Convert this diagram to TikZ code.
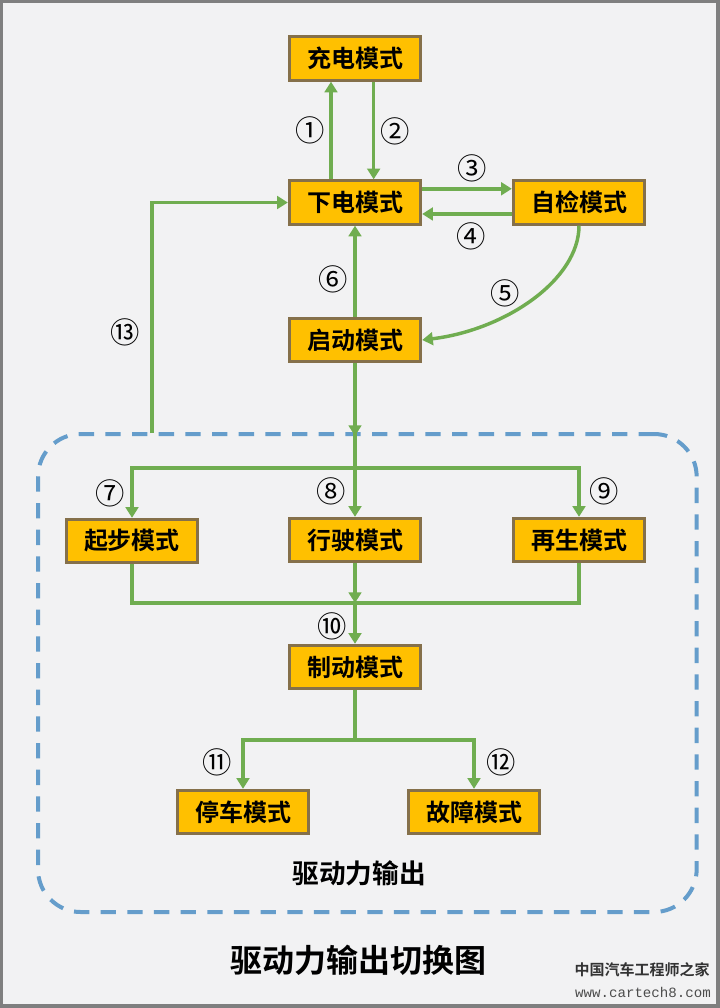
\documentclass[tikz,border=0pt]{standalone}
\usepackage{fontspec}
\usetikzlibrary{arrows.meta,calc}
\setmainfont{Liberation Sans}
\newfontfamily\cjk{Noto Sans CJK SC}[BoldFont={Noto Sans CJK SC Bold}]
\newfontfamily\circfont{Noto Sans CJK SC}
\newfontfamily\wmono{Liberation Mono}
\definecolor{pagebg}{HTML}{F2F2F3}
\definecolor{pageedge}{HTML}{7F7F7F}
\definecolor{boxfill}{HTML}{FFC000}
\definecolor{boxedge}{HTML}{85704A}
\definecolor{flow}{HTML}{70AD50}
\definecolor{dashblue}{HTML}{659DCB}
\tikzset{
  px/.style={x=0.75pt,y=-0.75pt},
  modebox/.style={draw=boxedge,fill=boxfill,line width=2.25pt,minimum width=98.5pt,minimum height=32.5pt,inner sep=0pt,font=\cjk\bfseries\fontsize{18pt}{20pt}\selectfont,text=black},
  flowline/.style={draw=flow,line width=2.6pt},
  flowarrow/.style={flowline,-{Triangle[length=8pt,width=9.5pt]}},
  numlabel/.style={inner sep=0pt,font=\circfont\fontsize{22pt}{24pt}\selectfont,text=black},
}
\begin{document}
\begin{tikzpicture}[px]
\useasboundingbox (0,0) rectangle (720,1008);
\fill[pageedge] (0,0) rectangle (720,1008);
\fill[pagebg] (3,3) rectangle (716,1004);

% dashed region
\node[draw=dashblue,line width=3pt,dash pattern=on 11.5pt off 8.5pt,rounded corners=32pt,minimum width=494pt,minimum height=358.5pt,inner sep=0pt,anchor=north west] (region) at (36,432) {};

% boxes
\node[modebox] (charge) at (355,58.5) {充电模式};
\node[modebox] (off) at (355,202.5) {下电模式};
\node[modebox] (check) at (579,202.5) {自检模式};
\node[modebox] (start) at (355,340) {启动模式};
\node[modebox] (launch) at (132,541) {起步模式};
\node[modebox] (drive) at (355,540) {行驶模式};
\node[modebox] (regen) at (579,540) {再生模式};
\node[modebox] (brake) at (355,667) {制动模式};
\node[modebox] (park) at (243,812) {停车模式};
\node[modebox] (fault) at (474,812) {故障模式};

% junctions
\coordinate (forkA) at (355,468);
\coordinate (busB) at (355,603);
\coordinate (forkC) at (355,740);
\coordinate (region13) at (152,433);
\coordinate (regionTop) at (355,436);

% connectors top
\draw[flowarrow] ([xshift=-18pt]off.north) -- ([xshift=-18pt]charge.south);
\draw[flowarrow] ([xshift=14pt]charge.south) -- ([xshift=14pt]off.north);
\draw[flowarrow] ([yshift=10.3pt]off.east) -- ([yshift=10.3pt]check.west);
\draw[flowarrow] ([yshift=-8.6pt]check.west) -- ([yshift=-8.6pt]off.east);
\draw[flowarrow] (check.south) .. controls (579,280) and (505,330) .. (start.east);
\draw[flowarrow] (start.north) -- (off.south);
\draw[flowarrow] (region13) |- (off.west);

% connectors into drive group
\draw[flowline] (start.south) -- (forkA);
\draw[flowarrow] (start.south) -- (regionTop);
\draw[flowarrow] (forkA) -- (drive.north);
\draw[flowarrow] (forkA) -| (launch.north);
\draw[flowarrow] (forkA) -| (regen.north);

% collecting bus
\draw[flowline] (launch.south) |- (busB);
\draw[flowline] (regen.south) |- (busB);
\draw[flowarrow] (drive.south) -- (busB);
\draw[flowarrow] (busB) -- (brake.north);

% brake fork
\draw[flowline] (brake.south) -- (forkC);
\draw[flowarrow] (forkC) -| (park.north);
\draw[flowarrow] (forkC) -| (fault.north);

% numbers
\node[numlabel] (n1) at (310,130) {①};
\node[numlabel] (n2) at (395,131) {②};
\node[numlabel] (n3) at (472,168) {③};
\node[numlabel] (n4) at (471,236) {④};
\node[numlabel] (n5) at (505,293) {⑤};
\node[numlabel] (n6) at (333,279) {⑥};
\node[numlabel] (n7) at (110,493) {⑦};
\node[numlabel] (n8) at (331,491) {⑧};
\node[numlabel] (n9) at (604,491) {⑨};
\node[numlabel] (n10) at (332,626) {⑩};
\node[numlabel] (n11) at (217,762) {⑪};
\node[numlabel] (n12) at (501,762) {⑫};
\node[numlabel] (n13) at (125,332) {⑬};

% titles
\node[inner sep=0pt,font=\cjk\bfseries\fontsize{20pt}{22pt}\selectfont] (grouplabel) at (359,873) {驱动力输出};
\node[inner sep=0pt,font=\cjk\bfseries\fontsize{24pt}{26pt}\selectfont] (title) at (358,960) {驱动力输出切换图};

% watermark
\node[inner sep=0pt,font=\cjk\bfseries\fontsize{11.25pt}{13pt}\selectfont,text=black!80] (wm1) at (642,970) {中国汽车工程师之家};
\node[inner sep=0pt,font=\wmono\fontsize{10.6pt}{13pt}\selectfont,text=black!70] (wm2) at (643,992) {www.cartech8.com};
\end{tikzpicture}
\end{document}
